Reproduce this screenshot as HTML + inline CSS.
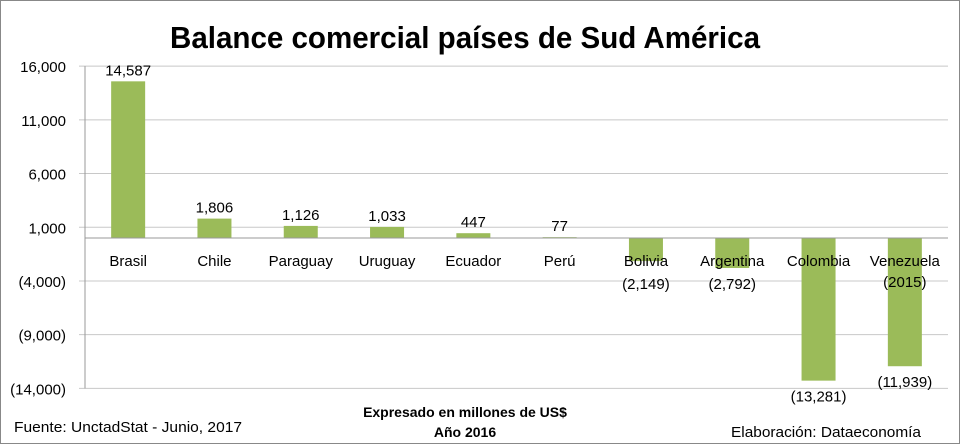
<!DOCTYPE html>
<html><head><meta charset="utf-8"><style>
body{margin:0;background:#fff;}
svg{display:block;font-family:"Liberation Sans",sans-serif;}
</style></head><body>
<svg id="chart" width="960" height="444">
<rect x="0.5" y="0.5" width="959" height="443" fill="#fff" stroke="#888"/>
<text x="465" y="48" text-anchor="middle" font-size="31" font-weight="bold" textLength="590" lengthAdjust="spacingAndGlyphs">Balance comercial países de Sud América</text>
<g id="grid"></g><g id="bars"></g><g id="labels"></g>
<text x="14" y="432" font-size="15" textLength="228" lengthAdjust="spacingAndGlyphs">Fuente: UnctadStat - Junio, 2017</text>
<text x="465" y="417" text-anchor="middle" font-size="14" font-weight="bold">Expresado en millones de US$</text>
<text x="465" y="437" text-anchor="middle" font-size="14" font-weight="bold">Año 2016</text>
<text x="921" y="437" text-anchor="end" font-size="15" textLength="190" lengthAdjust="spacingAndGlyphs">Elaboración: Dataeconomía</text>
</svg>
<script>
const categories=["Brasil","Chile","Paraguay","Uruguay","Ecuador","Perú","Bolivia","Argentina","Colombia","Venezuela"];
const extraLabel=["","","","","","","","","","(2015)"];
const values=[14587,1806,1126,1033,447,77,-2149,-2792,-13281,-11939];
const valueLabels=["14,587","1,806","1,126","1,033","447","77","(2,149)","(2,792)","(13,281)","(11,939)"];
const ticks=[16000,11000,6000,1000,-4000,-9000,-14000];
const tickLabels=["16,000","11,000","6,000","1,000","(4,000)","(9,000)","(14,000)"];
const NS="http://www.w3.org/2000/svg";
const x0=85,x1=948,yZero=238,pxPer=10.74/1000;
const y=v=>yZero-v*pxPer;
const band=(x1-x0)/categories.length;
const xc=i=>x0+band*(i+0.5);
function mk(tag,attrs,parent,text){const e=document.createElementNS(NS,tag);for(const k in attrs)e.setAttribute(k,attrs[k]);if(text!==undefined)e.textContent=text;document.getElementById(parent).appendChild(e);return e;}
ticks.forEach((t,i)=>{
 const g=mk("line",{x1:x0-6,x2:x1,y1:y(t),y2:y(t),stroke:"#c8c8c8","stroke-width":1},"grid");
 
 
 const l=mk("text",{x:66,y:y(t)+6,"text-anchor":"end","font-size":15},"grid",tickLabels[i]);
 
 
});
const ax=mk("line",{x1:x0,x2:x0,y1:y(16000),y2:y(-14000),stroke:"#999"},"grid");


const bw=34;
values.forEach((v,i)=>{
 const top=Math.min(y(v),yZero),h=Math.abs(y(v)-yZero);
 const b=mk("rect",{x:xc(i)-bw/2,y:top,width:bw,height:h,fill:"#9bbb59"},"bars");
 
 
 const vy=v>=0?y(v)-6:Math.max(y(v)+21,yZero+51);
 const vl=mk("text",{x:xc(i),y:vy,"text-anchor":"middle","font-size":15},"labels",valueLabels[i]);
 
 
 const cl=mk("text",{x:xc(i),y:266,"text-anchor":"middle","font-size":15},"labels",categories[i]);
 
 
 if(extraLabel[i]){const el=mk("text",{x:xc(i),y:287,"text-anchor":"middle","font-size":15},"labels",extraLabel[i]);
 
 }
});
const za=mk("line",{x1:x0,x2:x1,y1:yZero,y2:yZero,stroke:"#999"},"labels");


</script>
</body></html>
